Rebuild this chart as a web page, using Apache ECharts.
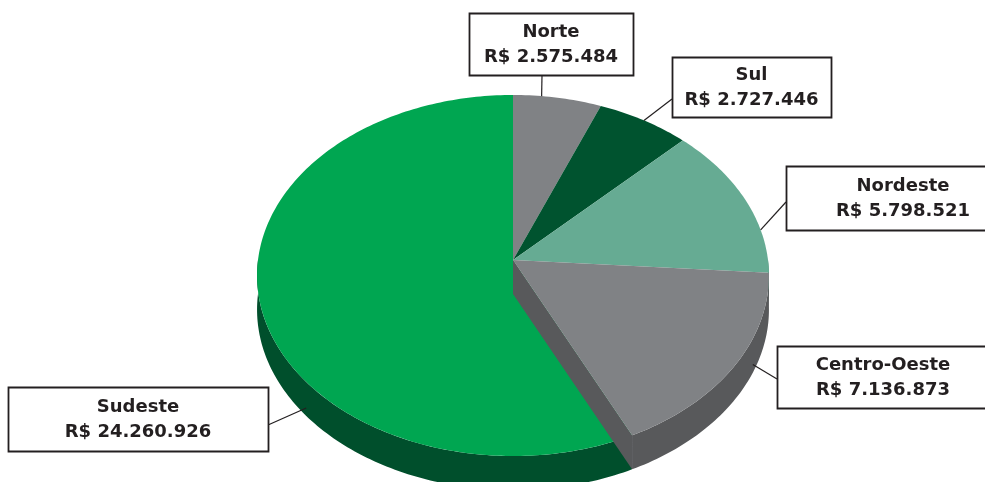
<!DOCTYPE html>
<html>
<head>
<meta charset="utf-8">
<script src="https://cdn.jsdelivr.net/npm/echarts@6/dist/echarts.min.js"></script>
<style>
  html, body { margin: 0; padding: 0; background: #fff; }
  #chart { width: 985px; height: 482px; }
</style>
</head>
<body>
<div id="chart"></div>
<script>
const regions = ['Norte', 'Sul', 'Nordeste', 'Centro-Oeste', 'Sudeste'];
const values = [2575484, 2727446, 5798521, 7136873, 24260926];

const topColors = ['#808285', '#00532f', '#66ab93', '#808285', '#00a651'];
const sideColors = ['#58595b', '#003a20', '#4a8a73', '#58595b', '#004f2c'];

// label boxes [x, y, w, h], where the leader leaves the box, and where it meets the pie [angle, drop]
const boxes = [[469, 13, 164, 62], [672, 57, 159, 60], [786, 166, 234, 64], [777, 346, 212, 62], [8, 387, 260, 64]];
const boxAttach = [[542, 75], [672, 99], [786, 202], [777, 379], [268, 425]];
const pieAnchor = [[7, 0], [33.4, 0], [80.2, 0], [115, 26], [230, 26]];

// the slice whose cut side shows over its neighbour
const raised = 3;

const CX = 513, CY = 260, RX = 255, RY = 179.2, K = 0.086, DEPTH = 34;
const total = values.reduce((a, b) => a + b, 0);

function proj(deg, r, drop) {
    const t = deg * Math.PI / 180;
    const u = r * Math.sin(t), v = -r * Math.cos(t);
    const w = 1 - K * v;
    return [CX + RX * u / w, CY + RY * v / w + drop];
}

function arc(a0, a1, drop) {
    const pts = [];
    const n = Math.max(2, Math.ceil(Math.abs(a1 - a0)));
    for (let j = 0; j <= n; j++) {
        pts.push(proj(a0 + (a1 - a0) * j / n, 1, drop));
    }
    return pts;
}

const fmt = v => String(v).replace(/\B(?=(\d{3})+(?!\d))/g, '.');

function renderItem(params, api) {
    const i = params.dataIndex;
    let before = 0;
    for (let j = 0; j < i; j++) before += values[j];
    const start = before / total * 360;
    const end = (before + api.value(0)) / total * 360;
    const up = i === raised ? 2 : 0;
    const children = [];

    // outer wall, only the front half can be seen
    const lo = Math.max(start, 90), hi = Math.min(end, 270);
    if (hi > lo) {
        const pts = arc(lo, hi, 0).concat(arc(hi, lo, DEPTH));
        children.push({ type: 'polygon', z2: 1 + up, shape: { points: pts }, style: { fill: sideColors[i] } });
    }

    if (i === raised) {
        const c = proj(0, 0, 0), e = proj(end, 1, 0);
        children.push({
            type: 'polygon', z2: 3,
            shape: { points: [c, e, [e[0], e[1] + DEPTH], [c[0], c[1] + DEPTH]] },
            style: { fill: sideColors[i] }
        });
    }

    const top = [proj(0, 0, 0)].concat(arc(start, end, 0));
    children.push({ type: 'polygon', z2: 2 + up, shape: { points: top }, style: { fill: topColors[i] } });

    // label
    const b = boxes[i];
    const p = proj(pieAnchor[i][0], 1, pieAnchor[i][1]);
    children.push({
        type: 'line', z2: 10,
        shape: { x1: boxAttach[i][0], y1: boxAttach[i][1], x2: p[0], y2: p[1] },
        style: { stroke: '#231f20', lineWidth: 1.2 }
    });
    children.push({
        type: 'rect', z2: 11,
        shape: { x: b[0] + 0.5, y: b[1] + 0.5, width: b[2], height: b[3] },
        style: { fill: '#ffffff', stroke: '#231f20', lineWidth: 1.8 }
    });
    children.push({
        type: 'text', z2: 12,
        style: {
            text: regions[i] + '\nR$ ' + fmt(api.value(0)),
            x: b[0] + b[2] / 2, y: b[1] + b[3] / 2 + 1,
            align: 'center', verticalAlign: 'middle',
            fontFamily: 'DejaVu Sans', fontWeight: 'bold', fontSize: 18,
            lineHeight: 25, fill: '#231f20'
        }
    });

    return { type: 'group', children: children };
}

const chart = echarts.init(document.getElementById('chart'));
chart.setOption({
    animation: false,
    series: [{
        type: 'custom',
        coordinateSystem: 'none',
        silent: true,
        renderItem: renderItem,
        data: values.map((v, i) => ({ name: regions[i], value: v }))
    }]
});
</script>
</body>
</html>
